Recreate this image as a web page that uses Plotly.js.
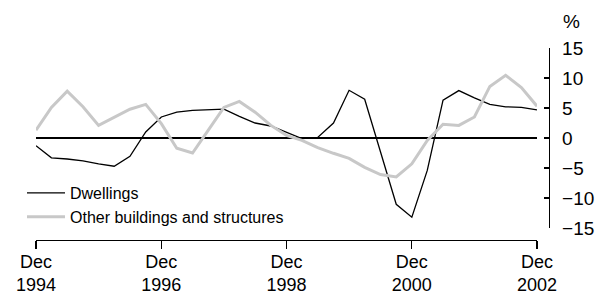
<!DOCTYPE html>
<html>
<head>
<meta charset="utf-8">
<script src="https://cdn.plot.ly/plotly-3.0.1.min.js"></script>
<style>html,body{margin:0;padding:0;background:#fff;}#chart{width:600px;height:296px;}</style>
</head>
<body>
<div id="chart"></div>
<script>
// Quarterly periods, Dec 1994 to Dec 2002
const quarters = [
  '1994-12-01','1995-03-01','1995-06-01','1995-09-01','1995-12-01',
  '1996-03-01','1996-06-01','1996-09-01','1996-12-01',
  '1997-03-01','1997-06-01','1997-09-01','1997-12-01',
  '1998-03-01','1998-06-01','1998-09-01','1998-12-01',
  '1999-03-01','1999-06-01','1999-09-01','1999-12-01',
  '2000-03-01','2000-06-01','2000-09-01','2000-12-01',
  '2001-03-01','2001-06-01','2001-09-01','2001-12-01',
  '2002-03-01','2002-06-01','2002-09-01','2002-12-01'
];
const dwellings = [
  -1.3, -3.3, -3.5, -3.8, -4.3, -4.7, -3.05, 1.0, 3.5,
  4.3, 4.6, 4.7, 4.8, 3.6, 2.5, 2.0, 1.0,
  -0.1, 0.1, 2.5, 7.95, 6.45, -2.3, -11.05, -13.2,
  -5.4, 6.3, 7.9, 6.7, 5.6, 5.2, 5.1, 4.7
];
const otherBuildings = [
  1.3, 5.1, 7.8, 5.2, 2.1, 3.4, 4.8, 5.6, 2.4,
  -1.7, -2.5, 1.3, 5.1, 6.1, 4.3, 2.1, 0.45,
  -0.4, -1.6, -2.55, -3.4, -4.9, -6.1, -6.5, -4.3,
  -0.4, 2.3, 2.1, 3.5, 8.6, 10.45, 8.4, 5.3
];
const seriesNames = ['Dwellings', 'Other buildings and structures'];
const xTickVals = ['1994-12-01','1996-12-01','1998-12-01','2000-12-01','2002-12-01'];
const xTickText = ['Dec<br>1994','Dec<br>1996','Dec<br>1998','Dec<br>2000','Dec<br>2002'];
const yTickVals = [-15, -10, -5, 0, 5, 10, 15];
const yUnit = '%';

const FONT = 'Liberation Sans, Arial, sans-serif';

const traces = [
  {x: quarters, y: dwellings, name: seriesNames[0], type: 'scatter', mode: 'lines',
   line: {color: '#000000', width: 1.3}},
  {x: quarters, y: otherBuildings, name: seriesNames[1], type: 'scatter', mode: 'lines',
   line: {color: '#c8c8c8', width: 3}}
];

const L = 36, R = 549, T = 48, B = 240;
const layout = {
  width: 600, height: 296,
  margin: {l: L, r: 600 - R, t: T, b: 296 - B, pad: 0},
  paper_bgcolor: '#ffffff', plot_bgcolor: 'rgba(0,0,0,0)',
  font: {family: FONT, size: 19, color: '#000000'},
  showlegend: true,
  legend: {x: -14 / (R - L), y: (B - 176) / (B - T), xanchor: 'left', yanchor: 'top',
           font: {family: FONT, size: 16, color: '#000'}, bgcolor: 'rgba(0,0,0,0)',
           borderwidth: 0, tracegroupgap: 0, itemwidth: 38},
  xaxis: {
    type: 'date', domain: [0, (537 - L) / (R - L)], range: [quarters[0], quarters[quarters.length - 1]],
    anchor: 'free', position: 0,
    showgrid: false, zeroline: false, showline: true, linecolor: '#000', linewidth: 1.3,
    ticks: 'outside', ticklen: 8, tickwidth: 1.3, tickcolor: '#000',
    tickmode: 'array', tickvals: xTickVals, ticktext: xTickText, ticklabelstandoff: -3,
    tickfont: {family: FONT, size: 18, color: '#000'}
  },
  yaxis: {
    domain: [(B - 228) / (B - T), 1], range: [-15, 15],
    anchor: 'free', position: 1, side: 'right',
    showgrid: false, zeroline: true, zerolinecolor: '#000', zerolinewidth: 1.3,
    showline: true, linecolor: '#000', linewidth: 1.3,
    ticks: 'inside', ticklen: 5, tickwidth: 1.3, tickcolor: '#000',
    tickmode: 'array', tickvals: yTickVals, ticklabelstandoff: 8,
    tickfont: {family: FONT, size: 19, color: '#000'}
  },
  annotations: [{
    text: yUnit, xref: 'paper', yref: 'paper',
    x: (571 - L) / (R - L), y: (B - 22) / (B - T), xanchor: 'center', yanchor: 'middle',
    showarrow: false, font: {family: FONT, size: 19, color: '#000'}
  }]
};

Plotly.newPlot('chart', traces, layout, {displayModeBar: false, staticPlot: true});
</script>
</body>
</html>
